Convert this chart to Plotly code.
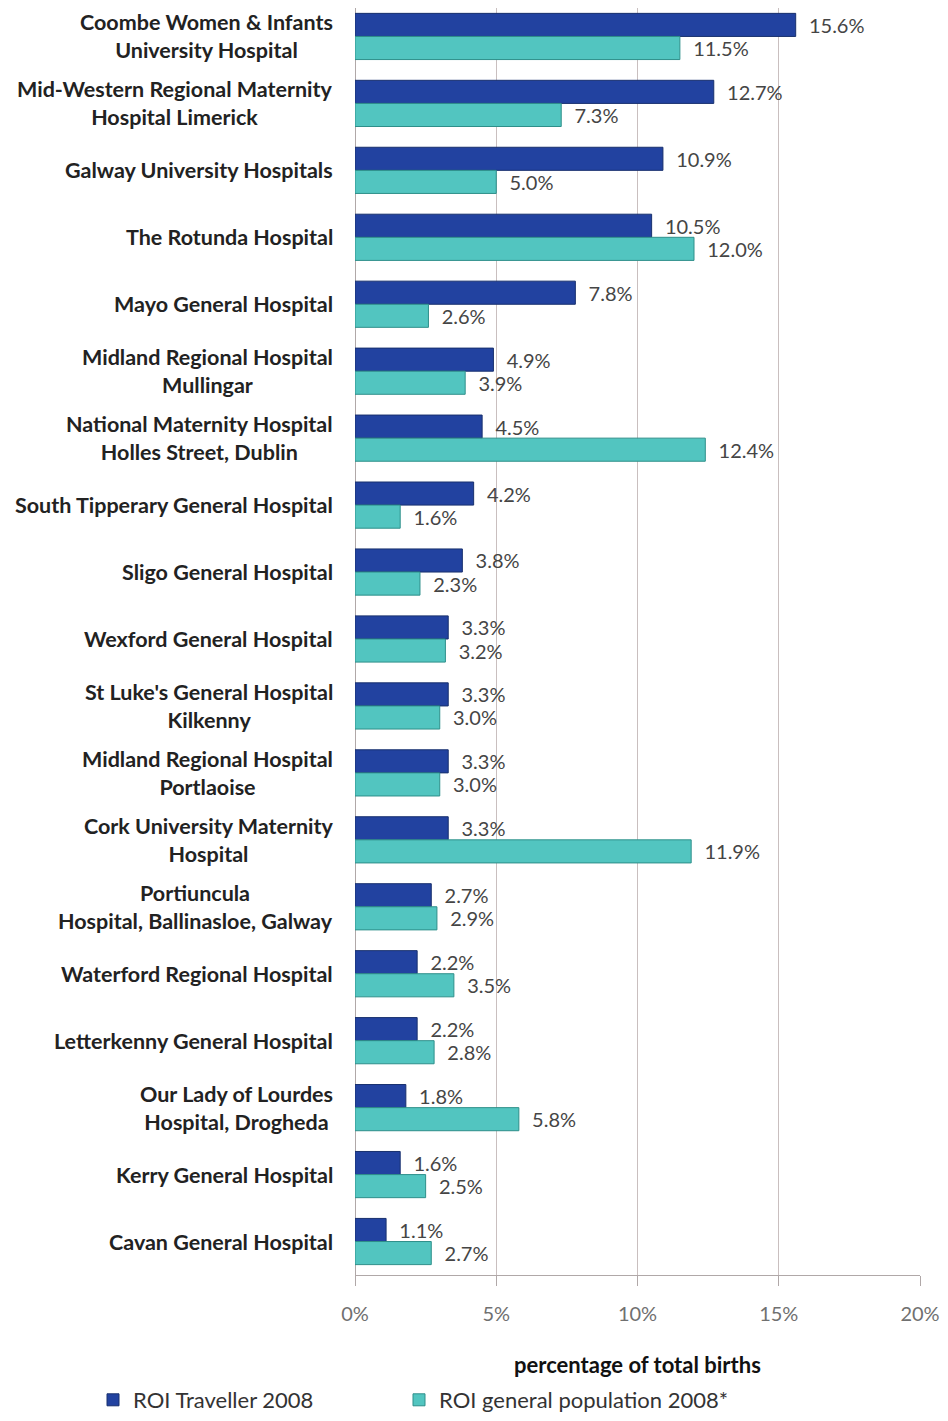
import plotly.graph_objects as go

hospitals = [
    "Coombe Women & Infants<br>University Hospital",
    "Mid-Western Regional Maternity<br>Hospital Limerick",
    "Galway University Hospitals",
    "The Rotunda Hospital",
    "Mayo General Hospital",
    "Midland Regional Hospital<br>Mullingar",
    "National Maternity Hospital<br>Holles Street, Dublin",
    "South Tipperary General Hospital",
    "Sligo General Hospital",
    "Wexford General Hospital",
    "St Luke's General Hospital<br>Kilkenny",
    "Midland Regional Hospital<br>Portlaoise",
    "Cork University Maternity<br>Hospital",
    "Portiuncula<br>Hospital, Ballinasloe, Galway",
    "Waterford Regional Hospital",
    "Letterkenny General Hospital",
    "Our Lady of Lourdes<br>Hospital, Drogheda",
    "Kerry General Hospital",
    "Cavan General Hospital",
]
traveller_2008 = [15.6, 12.7, 10.9, 10.5, 7.8, 4.9, 4.5, 4.2, 3.8, 3.3, 3.3, 3.3, 3.3, 2.7, 2.2, 2.2, 1.8, 1.6, 1.1]
general_2008 = [11.5, 7.3, 5.0, 12.0, 2.6, 3.9, 12.4, 1.6, 2.3, 3.2, 3.0, 3.0, 11.9, 2.9, 3.5, 2.8, 5.8, 2.5, 2.7]
tick_vals = [0, 5, 10, 15, 20]
tick_text = ["0%", "5%", "10%", "15%", "20%"]

FONT = "Lato"
fig = go.Figure()
fig.add_trace(go.Bar(
    y=hospitals, x=traveller_2008, orientation="h", name="ROI Traveller 2008",
    marker=dict(color="#2242a0", line=dict(color="#18306e", width=1)),
    text=[f"  {v:.1f}%" for v in traveller_2008], textposition="outside",
    textfont=dict(family=FONT, size=20, color="#454545"),
    constraintext="none", cliponaxis=False, legend="legend",
))
fig.add_trace(go.Bar(
    y=hospitals, x=general_2008, orientation="h", name="ROI general population 2008*",
    marker=dict(color="#52c5c0", line=dict(color="#2e8f8a", width=1)),
    text=[f"  {v:.1f}%" for v in general_2008], textposition="outside",
    textfont=dict(family=FONT, size=20, color="#454545"),
    constraintext="none", cliponaxis=False, legend="legend2",
))

for h in hospitals:
    fig.add_annotation(
        x=-0.036, xref="paper", y=h, yref="y", text=h, showarrow=False,
        xanchor="right", yanchor="middle", align="center",
        font=dict(family=FONT, size=21.5, color="#222222", weight="bold"),
    )

fig.add_annotation(
    x=0.5, xref="paper", y=-0.0705, yref="paper", text="<b>percentage of total births</b>",
    showarrow=False, xanchor="center", yanchor="middle",
    font=dict(family=FONT, size=22, color="#111111"),
)

legend_font = dict(family=FONT, size=22, color="#333333")
fig.update_layout(
    width=940, height=1413,
    margin=dict(l=347, r=28, t=0, b=145),
    barmode="group", bargap=0.31, bargroupgap=0.0,
    plot_bgcolor="white", paper_bgcolor="white",
    showlegend=True,
    legend=dict(
        orientation="h", xref="paper", yref="paper",
        x=-0.4637, y=-0.0986, xanchor="left", yanchor="middle",
        font=legend_font,
    ),
    legend2=dict(
        orientation="h", xref="paper", yref="paper",
        x=0.0779, y=-0.0986, xanchor="left", yanchor="middle",
        font=legend_font,
    ),
    font=dict(family=FONT),
)
fig.update_xaxes(
    range=[0, 20], tickvals=tick_vals, ticktext=tick_text,
    showgrid=True, gridcolor="#c9bfbf", gridwidth=1,
    showline=True, linecolor="#b0a8a8", linewidth=1,
    zeroline=True, zerolinecolor="#b0a8a8", zerolinewidth=1,
    ticks="outside", ticklen=10, tickcolor="#b0a8a8",
    tickfont=dict(family=FONT, size=20, color="#707070"),
    ticklabelstandoff=11,
)
fig.update_yaxes(
    range=[18.5, -0.425], showticklabels=False, showgrid=False,
    showline=False, ticks="",
)

fig.write_html("out.html")
